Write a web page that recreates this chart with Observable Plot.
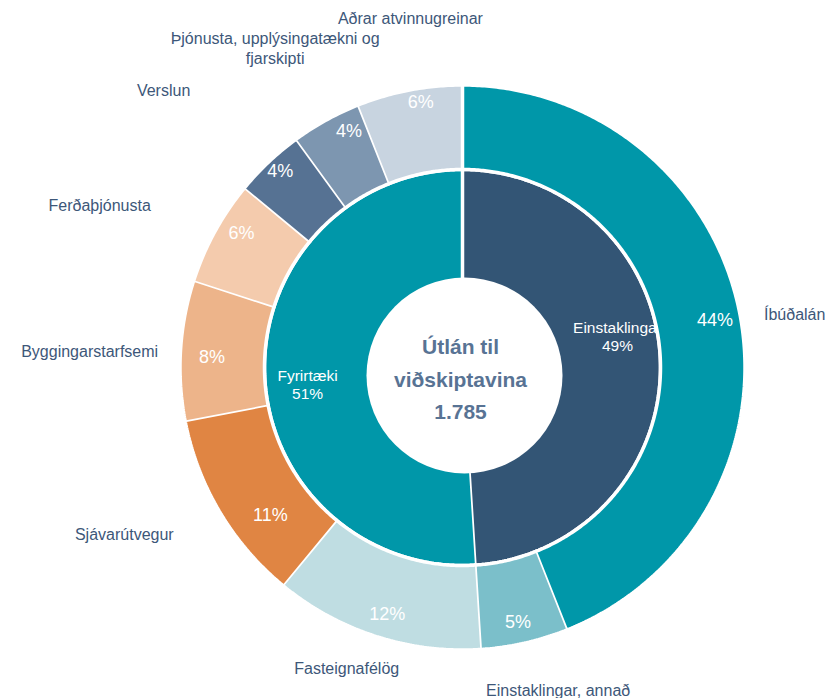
<!DOCTYPE html>
<html>
<head>
<meta charset="utf-8">
<script src="https://cdn.jsdelivr.net/npm/d3@7"></script>
<script src="https://cdn.jsdelivr.net/npm/@observablehq/plot@0.6"></script>
<style>
  html, body { margin: 0; padding: 0; background: #ffffff; }
  #chart { width: 828px; height: 698px; }
</style>
</head>
<body>
<div id="chart"></div>
<script>
// ---------- data ----------
const outerCategories = ["Íbúðalán", "Einstaklingar, annað", "Fasteignafélög", "Sjávarútvegur", "Byggingarstarfsemi", "Ferðaþjónusta", "Verslun", "Þjónusta, upplýsingatækni og\nfjarskipti", "Aðrar atvinnugreinar"];
const outerShares = [44, 5, 12, 11, 8, 6, 4, 4, 6];
const outerColors = ["#0097a9", "#7bbfca", "#bfdde2", "#e08543", "#edb48a", "#f4cbad", "#567293", "#7d96b0", "#c8d4e0"];

const innerCategories = ["Einstaklingar", "Fyrirtæki"];
const innerShares = [49, 51];
const innerColors = ["#335575", "#0097a9"];

const centerLines = ["Útlán til", "viðskiptavina", "1.785"];

// ---------- layout (styles / nudges only) ----------
const R_OUT = 282.5, R_MID = 198, R_HOLE = 98;
const catNudge = {
  "Íbúðalán": [-3, 4], "Einstaklingar, annað": [28, 20], "Fasteignafélög": [-20, 5],
  "Sjávarútvegur": [-22, 8], "Byggingarstarfsemi": [5, 3], "Ferðaþjónusta": [-40, -14],
  "Verslun": [-60, -52], "Þjónusta, upplýsingatækni og\nfjarskipti": [-38, -48], "Aðrar atvinnugreinar": [6, -45]
};
const pctNudge = {
  "Íbúðalán": [7, 0], "Einstaklingar, annað": [1, 11], "Fasteignafélög": [2, 9],
  "Sjávarútvegur": [23, 20], "Byggingarstarfsemi": [-1, 5], "Ferðaþjónusta": [-2, -14],
  "Verslun": [-11, -14], "Þjónusta, upplýsingatækni og\nfjarskipti": [7, -17], "Aðrar atvinnugreinar": [5, -20]
};
const innerNudge = { "Einstaklingar": [0, -26], "Fyrirtæki": [0, 12] };

// ---------- geometry from data ----------
const outerItems = outerCategories.map((name, i) => ({name, share: outerShares[i], color: outerColors[i]}));
const innerItems = innerCategories.map((name, i) => ({name: "in:" + name, label: name, share: innerShares[i], color: innerColors[i]}));

const pie = d3.pie().sort(null).value(d => d.share);

function ring(items, r0, r1) {
  const arcs = pie(items);
  const pts = [];
  for (const a of arcs) {
    const n = Math.max(2, Math.ceil((a.endAngle - a.startAngle) / (Math.PI / 360)));
    for (let i = 0; i <= n; i++) {
      const t = a.startAngle + (a.endAngle - a.startAngle) * i / n;
      pts.push({name: a.data.name, x: r1 * Math.sin(t), y: -r1 * Math.cos(t)});
    }
    if (r0 > 0) {
      for (let i = n; i >= 0; i--) {
        const t = a.startAngle + (a.endAngle - a.startAngle) * i / n;
        pts.push({name: a.data.name, x: r0 * Math.sin(t), y: -r0 * Math.cos(t)});
      }
    } else {
      pts.push({name: a.data.name, x: 0, y: 0});
    }
  }
  return {arcs, pts};
}

const outer = ring(outerItems, R_MID, R_OUT);
const inner = ring(innerItems, 0, R_MID);

const mid = a => (a.startAngle + a.endAngle) / 2;
const polar = (a, r) => ({x: r * Math.sin(mid(a)), y: -r * Math.cos(mid(a))});

const allNames = [...outerItems, ...innerItems].map(d => d.name);
const allColors = [...outerItems, ...innerItems].map(d => d.color);

const FONT = "Liberation Sans, Arial, Helvetica, sans-serif";
const marks = [];

// inner pie
marks.push(Plot.line(inner.pts, {x: "x", y: "y", z: "name", fill: "name", stroke: "#ffffff", strokeWidth: 3.5, strokeLinejoin: "miter", curve: "linear"}));

// white hole
marks.push(Plot.dot([{x: 0, y: 0}], {x: "x", y: "y", r: R_HOLE, fill: "#ffffff", stroke: "none", dx: 2, dy: 8}));

// inner labels
for (const a of inner.arcs) {
  const p = polar(a, 155);
  const [dx, dy] = innerNudge[a.data.label];
  marks.push(Plot.text([{...p, t: a.data.label + "\n" + a.data.share + "%"}], {
    x: "x", y: "y", text: "t", dx, dy, fill: "#ffffff", fontSize: 15.5, lineHeight: 1.16,
    textAnchor: "middle", lineAnchor: "middle", fontFamily: FONT
  }));
}

// outer ring (drawn after inner labels so it clips overflowing text)
marks.push(Plot.line(outer.pts, {x: "x", y: "y", z: "name", fill: "name", stroke: "#ffffff", strokeWidth: 3.5, strokeLinejoin: "miter", curve: "linear"}));

// percent labels on outer ring
for (const a of outer.arcs) {
  const p = polar(a, 250);
  const [dx, dy] = pctNudge[a.data.name];
  marks.push(Plot.text([{...p, t: a.data.share + "%"}], {
    x: "x", y: "y", text: "t", dx, dy, fill: "#ffffff", fontSize: 18,
    textAnchor: "middle", lineAnchor: "middle", fontFamily: FONT
  }));
}

// category labels outside
for (const a of outer.arcs) {
  const p = polar(a, 310);
  const s = Math.sin(mid(a));
  const anchor = s > 0.3 ? "start" : (s < -0.55 ? "end" : "middle");
  const [dx, dy] = catNudge[a.data.name];
  marks.push(Plot.text([{...p, t: a.data.name}], {
    x: "x", y: "y", text: "t", dx, dy, fill: "#3d5779", fontSize: 16, lineHeight: 1.25,
    textAnchor: anchor, lineAnchor: "middle", fontFamily: FONT
  }));
}

// center title
marks.push(Plot.text([{x: 0, y: 0, t: centerLines.join("\n")}], {
  x: "x", y: "y", text: "t", dx: -2, dy: 9, fill: "#587394", fontSize: 21, fontWeight: "bold",
  lineHeight: 1.55, textAnchor: "middle", lineAnchor: "middle", fontFamily: FONT
}));

const chart = Plot.plot({
  width: 828,
  height: 698,
  margin: 0,
  style: {fontFamily: FONT, background: "#ffffff", overflow: "visible"},
  x: {domain: [-462, 366], range: [0, 828], axis: null},
  y: {domain: [-367, 331], range: [0, 698], axis: null},
  color: {domain: allNames, range: allColors},
  marks
});
document.getElementById("chart").appendChild(chart);
</script>
</body>
</html>
